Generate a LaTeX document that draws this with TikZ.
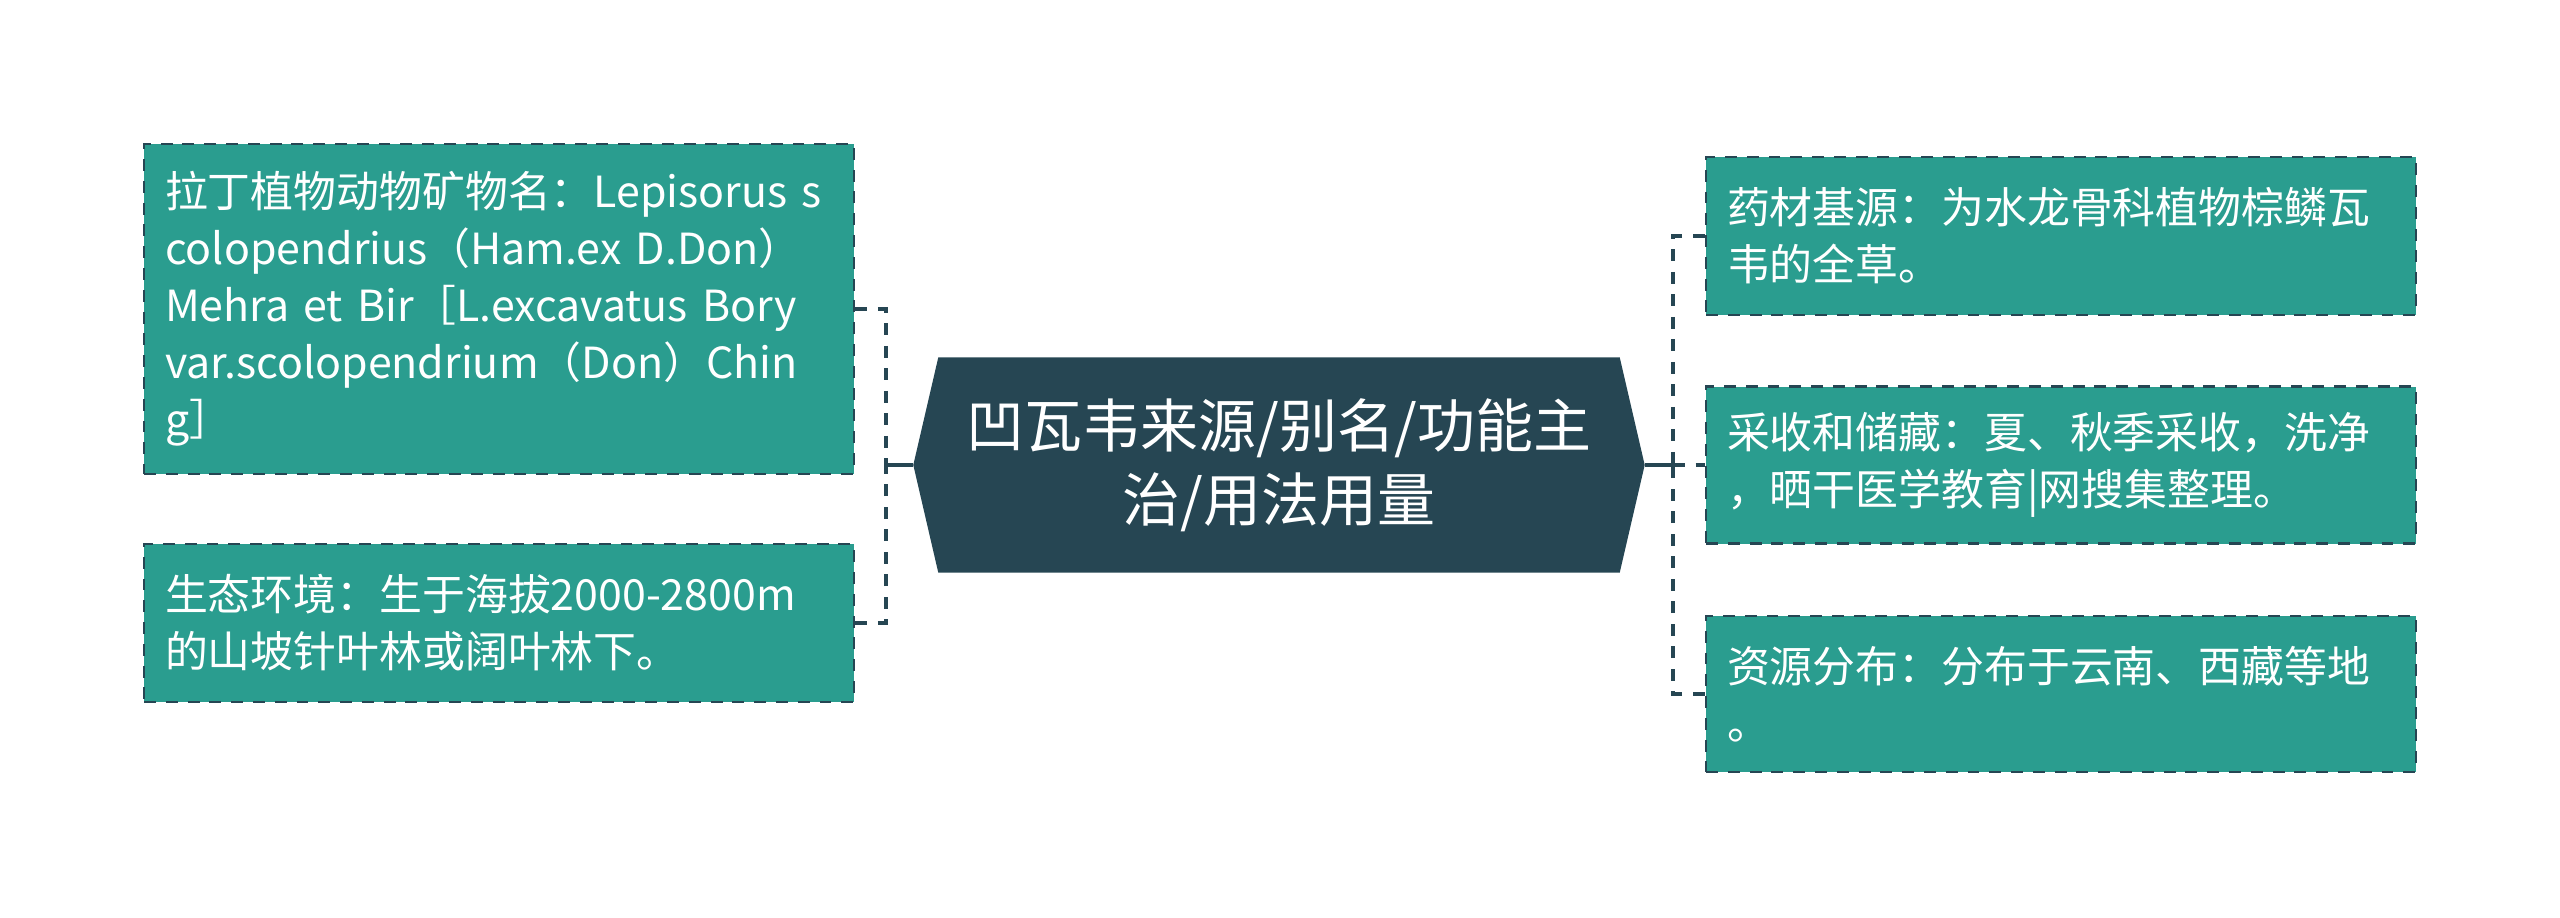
\documentclass[tikz,border=0pt]{standalone}
\usepackage{fontspec}
\newfontfamily\cjk{Noto Sans CJK SC}
\usetikzlibrary{backgrounds}
\definecolor{leafteal}{HTML}{2A9D8F}
\definecolor{rootslate}{HTML}{264653}

\begin{document}
\begin{tikzpicture}[
	leaf/.style={rectangle, fill=leafteal, draw=rootslate, line width=.8pt, dash pattern=on 3.4pt off 2.8pt,
		minimum width=7.1cm, text width=6.68cm, inner xsep=.21cm, align=left, text=white,
		font=\cjk\fontsize{12.2pt}{16.2pt}\selectfont},
	link/.style={draw=rootslate, line width=1.2pt, dash pattern=on 3.4pt off 3pt},
	trunk/.style={draw=rootslate, line width=1.2pt}]
			\useasboundingbox (0,0) rectangle (25.6,-9.17);
			
			\node [text=white, align=center, inner sep=0, minimum width=6.8cm, minimum height=2.14cm,
				font=\cjk\fontsize{16.5pt}{21pt}\selectfont] (root) at (12.79,-4.65) {凹瓦韦来源/别名/功能主\\治/用法用量};
			\begin{scope}[on background layer]
				\fill [rootslate] (root.north west) -- (root.north east) -- ([xshift=.25cm]root.east)
					-- (root.south east) -- (root.south west) -- ([xshift=-.25cm]root.west) -- cycle;
			\end{scope}
			\coordinate (lj) at (8.86,-4.65);
			\coordinate (rj) at (16.73,-4.65);
			
			\node [leaf, minimum height=3.3cm] (latin) at (4.99,-3.09) {拉丁植物动物矿物名：Lepisorus~s\\colopendrius（Ham.ex~D.Don）\\Mehra~et~Bir［L.excavatus~Bory\\var.scolopendrium（Don）Chin\\g］};
			\node [leaf, minimum height=1.58cm] (habitat) at (4.99,-6.23) {生态环境：生于海拔2000-2800m\\的山坡针叶林或阔叶林下。};
			
			\node [leaf, minimum height=1.58cm] (origin) at (20.61,-2.36) {药材基源：为水龙骨科植物棕鳞瓦\\韦的全草。};
			\node [leaf, minimum height=1.57cm] (harvest) at (20.61,-4.65) {采收和储藏：夏、秋季采收，洗净\\，晒干医学教育|网搜集整理。};
			\node [leaf, minimum height=1.56cm] (spread) at (20.61,-6.94) {资源分布：分布于云南、西藏等地\\。};
			
			\draw [trunk] ([xshift=-.25cm]root.west) -- (lj);
			\draw [link] (latin.east) -| (lj);
			\draw [link] (habitat.east) -| (lj);
			
			\draw [trunk] ([xshift=.25cm]root.east) -- ([xshift=.12cm]rj);
			\draw [link] (rj) -- (harvest.west);
			\draw [link] (origin.west) -| (rj);
			\draw [link] (spread.west) -| (rj);
\end{tikzpicture}
\end{document}
